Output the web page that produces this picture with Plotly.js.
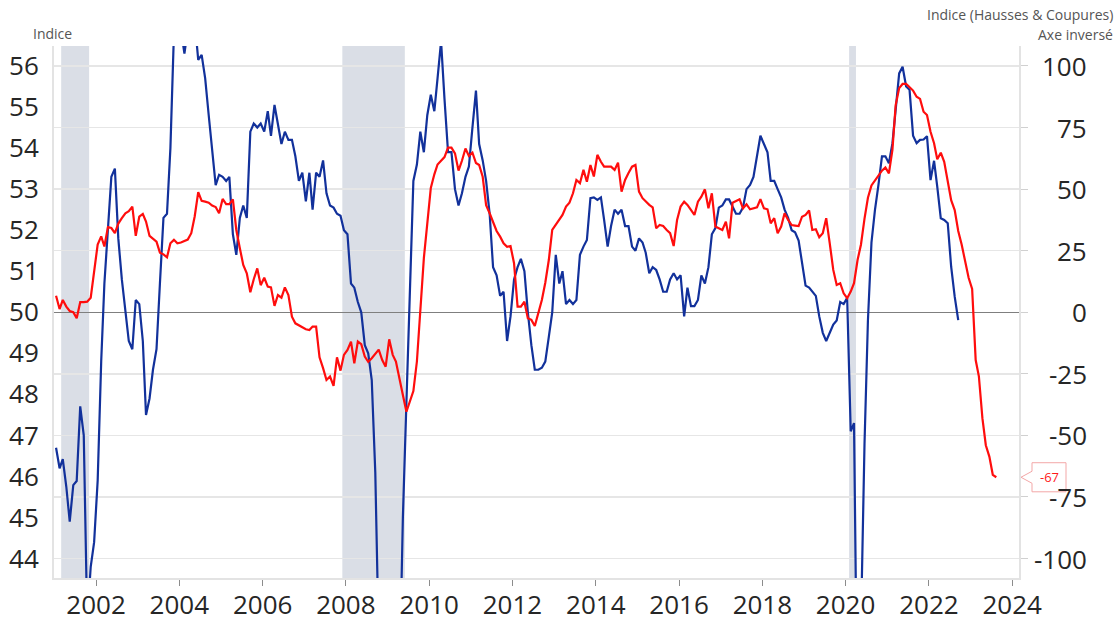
<!DOCTYPE html>
<html><head><meta charset="utf-8">
<script src="https://cdn.plot.ly/plotly-3.0.1.min.js"></script>
<style>html,body{margin:0;padding:0;background:#fff}#chart{width:1118px;height:622px}</style>
</head><body><div id="chart"></div>
<script>
// Monthly data, first month = January 2001
const startYear = 2001;

// Left axis (Indice) - blue series
const pmiValues = [
  46.70, 46.20, 46.42, 45.75, 44.90, 45.79, 45.89, 47.71, 47.0, 42.5, 43.8, 44.4,   // 2001
  45.9, 48.8, 50.7, 52.1, 53.3, 53.5, 51.8, 50.8, 50.0, 49.3, 49.1, 50.3,           // 2002
  50.2, 49.3, 47.5, 47.9, 48.6, 49.1, 50.7, 52.3, 52.4, 54.0, 56.8, 57.3,           // 2003
  56.9, 56.3, 56.9, 57.2, 57.1, 56.15, 56.27, 55.7, 54.8, 53.9, 53.1, 53.35,        // 2004
  53.3, 53.2, 53.3, 51.9, 51.4, 52.3, 52.6, 52.3, 54.4, 54.6, 54.5, 54.6,           // 2005
  54.4, 54.9, 54.3, 55.05, 54.6, 54.1, 54.4, 54.2, 54.2, 53.8, 53.2, 53.4,          // 2006
  52.7, 53.4, 52.5, 53.4, 53.3, 53.7, 52.9, 52.6, 52.55, 52.4, 52.35, 52.0,         // 2007
  51.9, 50.7, 50.6, 50.25, 50.0, 49.2, 49.0, 48.35, 46.1, 41.7, 36.5, 33.7,         // 2008
  34.6, 35.4, 36.8, 41.0, 45.0, 47.8, 50.2, 53.2, 53.6, 54.4, 53.9, 54.8,           // 2009
  55.3, 54.9, 55.7, 56.6, 55.2, 53.9, 53.9, 53.0, 52.6, 52.9, 53.3, 53.55,          // 2010
  54.5, 55.4, 54.1, 53.7, 53.2, 52.4, 51.1, 50.9, 50.4, 50.5, 49.3, 49.9,           // 2011
  50.8, 51.1, 51.3, 51.0, 50.0, 49.2, 48.6, 48.6, 48.65, 48.8, 49.4, 50.0,          // 2012
  51.4, 50.7, 51.0, 50.2, 50.3, 50.2, 50.3, 51.4, 51.6, 51.76, 52.78, 52.8,         // 2013
  52.74, 52.8, 52.25, 51.6, 52.1, 52.5, 52.4, 52.5, 52.1, 52.1, 51.6, 51.5,         // 2014
  51.8, 51.7, 51.45, 50.95, 51.1, 51.03, 50.8, 50.5, 50.5, 50.8, 50.95, 50.8,       // 2015
  50.9, 49.9, 50.6, 50.15, 50.15, 50.3, 50.9, 50.7, 51.1, 51.9, 52.05, 52.55,       // 2016
  52.6, 52.75, 52.75, 52.55, 52.4, 52.4, 52.55, 53.0, 53.1, 53.3, 53.8, 54.3,       // 2017
  54.1, 53.9, 53.2, 53.2, 53.0, 52.8, 52.5, 52.3, 52.0, 51.95, 51.75, 51.2,         // 2018
  50.65, 50.6, 50.5, 50.4, 49.9, 49.5, 49.3, 49.5, 49.7, 49.8, 50.25, 50.2,         // 2019
  50.35, 47.1, 47.3, 39.6, 42.4, 46.8, 49.8, 51.7, 52.5, 53.1, 53.8, 53.8,          // 2020
  53.63, 54.12, 54.93, 55.82, 55.98, 55.5, 55.42, 54.3, 54.12, 54.2, 54.21, 54.29,  // 2021
  53.22, 53.69, 53.06, 52.29, 52.25, 52.17, 51.11, 50.38, 49.81                     // 2022
];

// Right axis (Hausses & Coupures, axe inversé) - red series
const ratesValues = [
  6.7, 1.3, 5.0, 2.3, 0.5, 0.0, -2.4, 4.1, 4.1, 4.3, 5.9, 15.8,                     // 2001
  27.5, 30.8, 26.7, 34.6, 34.2, 32.1, 36.0, 38.2, 40.2, 41.0, 42.9, 31.0,           // 2002
  38.8, 39.9, 36.8, 31.0, 30.0, 28.7, 24.2, 23.5, 22.3, 28.0, 29.4, 28.0,           // 2003
  28.3, 29.0, 29.5, 32.1, 38.9, 48.8, 45.2, 44.9, 44.5, 43.3, 42.7, 40.2,           // 2004
  46.0, 43.9, 43.9, 45.8, 33.4, 26.0, 19.2, 15.8, 8.1, 13.4, 17.8, 11.0,            // 2005
  14.0, 10.4, 10.1, 2.6, 7.0, 5.9, 10.1, 7.0, -1.8, -4.5, -5.2, -6.0,               // 2006
  -6.9, -7.2, -5.8, -5.8, -18.3, -22.7, -27.5, -26.1, -29.9, -18.3, -23.7, -17.3,   // 2007
  -15.3, -11.9, -20.7, -11.9, -13.0, -18.0, -20.1, -18.7, -17.0, -15.2, -19.4, -22.1, // 2008
  -11.0, -17.3, -20.0, -27.5, -33.6, -40.4, -36.5, -32.0, -20.0, 0.0, 22.0, 36.0,   // 2009
  50.5, 56.0, 60.0, 61.5, 63.0, 66.8, 66.8, 64.5, 57.5, 61.5, 66.5, 63.5,           // 2010
  64.8, 60.6, 59.8, 55.0, 43.5, 40.2, 36.5, 33.0, 30.7, 28.0, 26.6, 26.9,           // 2011
  19.9, 2.3, 2.3, 4.3, -2.4, -3.1, -5.6, 0.2, 5.0, 12.0, 21.2, 33.4,                // 2012
  35.4, 37.5, 39.5, 42.9, 44.5, 48.3, 53.7, 52.4, 57.8, 53.0, 59.8, 55.1,           // 2013
  63.9, 61.1, 59.1, 59.1, 59.1, 57.8, 60.7, 49.0, 53.7, 56.5, 59.1, 59.8,           // 2014
  49.0, 46.3, 45.0, 43.6, 42.6, 34.1, 35.4, 35.0, 33.4, 32.1, 26.9, 37.5,           // 2015
  42.9, 44.9, 43.6, 41.3, 39.5, 44.9, 46.9, 49.9, 42.2, 48.3, 34.8, 34.1,           // 2016
  33.4, 36.8, 30.0, 44.5, 45.2, 45.9, 42.2, 43.8, 41.8, 42.2, 42.6, 45.9,           // 2017
  42.2, 41.8, 36.1, 38.2, 32.1, 34.8, 40.2, 37.5, 35.4, 35.2, 35.0, 38.8,           // 2018
  39.5, 41.3, 33.4, 33.7, 30.5, 32.1, 38.2, 28.0, 17.2, 11.1, 11.8, 7.7,            // 2019
  5.7, 8.4, 11.8, 21.2, 27.5, 38.0, 46.5, 51.5, 53.7, 55.5, 57.5, 58.8,             // 2020
  56.4, 66.0, 84.0, 91.0, 92.7, 92.7, 91.5, 90.0, 87.5, 86.6, 81.4, 80.1,           // 2021
  73.3, 68.6, 62.1, 64.8, 61.1, 53.0, 45.5, 41.5, 33.0, 27.5, 20.5, 14.0,           // 2022
  9.5, -19.4, -26.0, -43.0, -54.0, -58.6, -66.0, -67.0                              // 2023
];

// Recession periods (shaded)
const recessionStarts = ['2001-03-01', '2007-12-01', '2020-02-01'];
const recessionEnds   = ['2001-11-01', '2009-06-01', '2020-04-01'];

// Tick labels
const xTickYears = [2002, 2004, 2006, 2008, 2010, 2012, 2014, 2016, 2018, 2020, 2022, 2024];
const leftTicks = [44, 45, 46, 47, 48, 49, 50, 51, 52, 53, 54, 55, 56];
const rightTicks = [-100, -75, -50, -25, 0, 25, 50, 75, 100];

const leftTitle = 'Indice';
const rightTitle1 = 'Indice (Hausses & Coupures)';
const rightTitle2 = 'Axe inversé';

function monthDates(count) {
  const out = [];
  for (let i = 0; i < count; i++) {
    const y = startYear + Math.floor(i / 12);
    const m = (i % 12) + 1;
    out.push(y + '-' + (m < 10 ? '0' + m : m) + '-15');
  }
  return out;
}

const FONT = 'Open Sans, Segoe UI, DejaVu Sans, sans-serif';
const tickFont = {family: FONT, size: 26, color: '#262626'};
const titleFont = {family: FONT, size: 14, color: '#555555'};

const traces = [
  {
    x: monthDates(pmiValues.length), y: pmiValues, yaxis: 'y',
    type: 'scatter', mode: 'lines',
    line: {color: '#12319b', width: 2.2}, hoverinfo: 'skip'
  },
  {
    x: monthDates(ratesValues.length), y: ratesValues, yaxis: 'y2',
    type: 'scatter', mode: 'lines',
    line: {color: '#ff0d0d', width: 2.2}, hoverinfo: 'skip'
  }
];

const shapes = recessionStarts.map((s, i) => ({
  type: 'rect', xref: 'x', yref: 'paper', x0: s, x1: recessionEnds[i], y0: 0, y1: 1,
  fillcolor: '#dadee6', line: {width: 0}, layer: 'below'
}));

// Callout for last value of the red series
const lastVal = ratesValues[ratesValues.length - 1];
const plotL = 54, plotR = 1019, plotW = plotR - plotL;
const px = p => (p - plotL) / plotW;
const bx0 = px(1032), bx1 = px(1066), tip = px(1021);
const hb = 5.9, ht = 2.44;
shapes.push({
  type: 'path', xref: 'paper', yref: 'y2', layer: 'above',
  path: `M${bx0},${lastVal + hb} L${bx1},${lastVal + hb} L${bx1},${lastVal - hb} L${bx0},${lastVal - hb} L${bx0},${lastVal - ht} L${tip},${lastVal} L${bx0},${lastVal + ht} Z`,
  fillcolor: '#ffffff', line: {color: '#f3a7a7', width: 1}
});

const annotations = rightTicks.map(v => ({
  xref: 'paper', yref: 'y2', x: px(1089), y: v, xanchor: 'right', yanchor: 'middle',
  text: String(v), showarrow: false, font: tickFont
}));
annotations.push(
  {xref: 'paper', yref: 'paper', x: px(31), y: 1 + 13 / 532, xanchor: 'left', yanchor: 'middle',
   text: leftTitle, showarrow: false, font: titleFont},
  {xref: 'paper', yref: 'paper', x: px(1115), y: 1 + 32 / 532, xanchor: 'right', yanchor: 'middle',
   text: rightTitle1, showarrow: false, font: titleFont},
  {xref: 'paper', yref: 'paper', x: px(1115), y: 1 + 12 / 532, xanchor: 'right', yanchor: 'middle',
   text: rightTitle2, showarrow: false, font: titleFont},
  {xref: 'paper', yref: 'y2', x: (bx0 + bx1) / 2, y: lastVal, xanchor: 'center', yanchor: 'middle',
   text: String(lastVal), showarrow: false, font: {family: FONT, size: 13, color: '#ff1a1a'}}
);

const layout = {
  width: 1118, height: 622,
  margin: {l: 54, r: 99, t: 46, b: 44, pad: 0},
  paper_bgcolor: '#ffffff', plot_bgcolor: '#ffffff',
  showlegend: false,
  xaxis: {
    type: 'date', range: ['2000-12-28', '2024-03-01'],
    tickvals: xTickYears.map(y => y + '-01-01'), ticktext: xTickYears.map(String),
    ticks: 'outside', ticklen: 6, tickwidth: 1, tickcolor: '#8c8c8c',
    showgrid: false, zeroline: false, showline: true, linecolor: '#e3e3e3', linewidth: 2,
    tickfont: tickFont, ticklabelstandoff: -3
  },
  yaxis: {
    range: [43.527, 56.487], tickvals: leftTicks, ticktext: leftTicks.map(String),
    ticks: '', showgrid: false, zeroline: false,
    showline: true, linecolor: '#e3e3e3', linewidth: 2,
    tickfont: tickFont, ticklabelstandoff: 8
  },
  yaxis2: {
    overlaying: 'y', side: 'right', range: [-107.9, 108.1],
    tickvals: rightTicks, showticklabels: false,
    ticks: 'outside', ticklen: 7, tickwidth: 1, tickcolor: '#d0d0d0',
    showgrid: true, gridcolor: '#e6e6e6', gridwidth: 1.6,
    zeroline: true, zerolinecolor: '#7f7f7f', zerolinewidth: 1,
    showline: true, linecolor: '#e3e3e3', linewidth: 2
  },
  shapes: shapes,
  annotations: annotations
};

Plotly.newPlot('chart', traces, layout, {staticPlot: true, displayModeBar: false});
</script>
</body></html>
